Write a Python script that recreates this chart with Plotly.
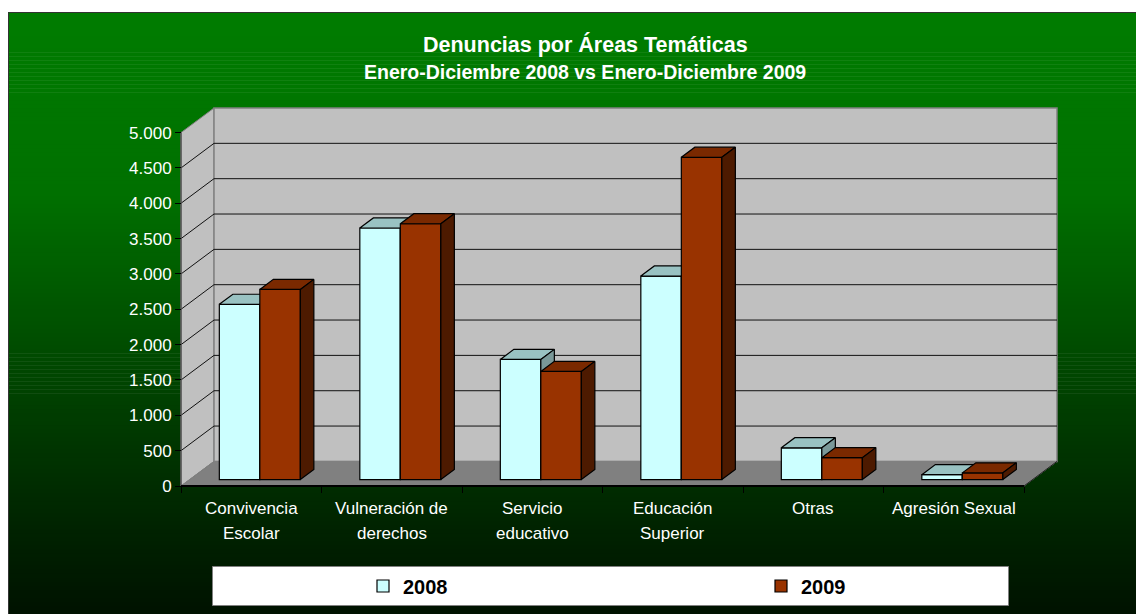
import plotly.graph_objects as go

# ---------------- data ----------------
categories = ["Convivencia<br>Escolar", "Vulneración de<br>derechos", "Servicio<br>educativo",
              "Educación<br>Superior", "Otras", "Agresión Sexual"]
values_2008 = [2480, 3560, 1700, 2880, 450, 70]
values_2009 = [2690, 3620, 1530, 4560, 310, 95]
series_names = ["2008", "2009"]
y_ticks = [0, 500, 1000, 1500, 2000, 2500, 3000, 3500, 4000, 4500, 5000]
y_max = 5000
title_text = "Denuncias por Áreas Temáticas"
subtitle_text = "Enero-Diciembre 2008 vs Enero-Diciembre 2009"

# ---------------- styles / geometry (page pixels) ----------------
FONT = "Liberation Sans, Arial, sans-serif"
PAGE_W, PAGE_H = 1144, 614
OFF = 8                              # default body margin of the html page
FIG_W, FIG_H = PAGE_W - OFF, PAGE_H - OFF
ORIGIN_X, ORIGIN_Y = 181, 486        # front-left-bottom corner of the 3D box (page px)
CAT_W = 140.5                        # px per category on the front plane
Y_SCALE = 353.4 / y_max              # px per value unit
DEPTH_X, DEPTH_Y = 33.0, 24.6        # depth offset of the back wall (px)
PAD = 8
F0, F1 = 0.26, 0.67                  # bar depth position (fraction of box depth)
BAR_W_PX = 40.5

face_colors = {
    "2008": dict(front="#CCFFFF", top="#99C2C2", side="#7A9999"),
    "2009": dict(front="#993300", top="#7A2900", side="#4D1A00"),
}

n = len(categories)
DXu = DEPTH_X / CAT_W
DYu = DEPTH_Y / Y_SCALE
x_range = [-PAD / CAT_W, n + DXu + PAD / CAT_W]
y_range = [-PAD / Y_SCALE, y_max + DYu + PAD / Y_SCALE]

left = ORIGIN_X - PAD
right = ORIGIN_X + n * CAT_W + DEPTH_X + PAD
bottom = ORIGIN_Y + PAD
top = ORIGIN_Y - (y_max * Y_SCALE + DEPTH_Y) - PAD


def pxp(x):
    return (x - left) / (right - left)


def pyp(y):
    return (bottom - y) / (bottom - top)


def path(points):
    return "M " + " L ".join(f"{x:.5f},{y:.3f}" for x, y in points) + " Z"


shapes = []

# gradient background (green -> dark)
stops = [(0.0, 124), (0.3, 112), (0.6, 70), (0.85, 36), (1.0, 18)]


def green_at(t):
    for (t0, g0), (t1, g1) in zip(stops[:-1], stops[1:]):
        if t <= t1:
            return g0 + (g1 - g0) * (t - t0) / (t1 - t0)
    return stops[-1][1]


BOX_TOP, BOX_LEFT = 12, 8
n_strips = 150
step = (PAGE_H - BOX_TOP) / n_strips
for k in range(n_strips):
    y0 = BOX_TOP + k * step
    g = green_at((k + 0.5) / n_strips)
    shapes.append(dict(type="rect", xref="paper", yref="paper", layer="below",
                       x0=pxp(BOX_LEFT), x1=pxp(PAGE_W + 2), y0=pyp(y0), y1=pyp(y0 + step + 0.6),
                       fillcolor=f"rgb(0,{int(round(g))},0)", line=dict(width=0)))
shapes.append(dict(type="rect", xref="paper", yref="paper", layer="below",
                   x0=pxp(BOX_LEFT + 0.5), x1=pxp(PAGE_W + 3), y0=pyp(PAGE_H + 3), y1=pyp(BOX_TOP + 0.5),
                   fillcolor="rgba(0,0,0,0)", line=dict(color="#333333", width=1)))
# legend box
shapes.append(dict(type="rect", xref="paper", yref="paper", layer="below",
                   x0=pxp(212.5), x1=pxp(1008.5), y0=pyp(605.5), y1=pyp(566.5),
                   fillcolor="white", line=dict(color="#808080", width=1)))

# walls
shapes.append(dict(type="path", xref="x", yref="y", layer="below",
                   path=path([(0, 0), (0, y_max), (DXu, y_max + DYu), (DXu, DYu)]),
                   fillcolor="#C0C0C0", line=dict(color="#808080", width=1)))
shapes.append(dict(type="rect", xref="x", yref="y", layer="below",
                   x0=DXu, x1=n + DXu, y0=DYu, y1=y_max + DYu,
                   fillcolor="#C0C0C0", line=dict(color="#808080", width=1.5)))
shapes.append(dict(type="path", xref="x", yref="y", layer="below",
                   path=path([(0, 0), (n, 0), (n + DXu, DYu), (DXu, DYu)]),
                   fillcolor="#808080", line=dict(color="#808080", width=1)))
for v in y_ticks[1:-1]:
    shapes.append(dict(type="line", xref="x", yref="y", layer="below",
                       x0=DXu, x1=n + DXu, y0=v + DYu, y1=v + DYu,
                       line=dict(color="#111111", width=1)))
    shapes.append(dict(type="line", xref="x", yref="y", layer="below",
                       x0=0, x1=DXu, y0=v, y1=v + DYu,
                       line=dict(color="#111111", width=1)))
# front edges
shapes.append(dict(type="line", xref="x", yref="y", layer="below",
                   x0=0, x1=0, y0=0, y1=y_max, line=dict(color="#555555", width=1.5)))
shapes.append(dict(type="line", xref="x", yref="y", layer="below",
                   x0=n, x1=n + DXu, y0=0, y1=DYu, line=dict(color="#222222", width=1)))
shapes.append(dict(type="line", xref="x", yref="y", layer="below",
                   x0=0, x1=n, y0=0, y1=0, line=dict(color="black", width=2)))

# ---------------- bars ----------------
fig = go.Figure()
bar_w = BAR_W_PX / CAT_W
base = F0 * DYu
shift = F0 * DXu
ddx = (F1 - F0) * DXu
ddy = (F1 - F0) * DYu

for si, (name, vals) in enumerate(zip(series_names, [values_2008, values_2009])):
    xa = "x" if si == 0 else "x2"
    ya = "y" if si == 0 else "y2"
    cols = face_colors[name]
    centers = [i + 0.5 + shift + (si - 0.5) * bar_w for i in range(n)]
    fig.add_trace(go.Bar(x=centers, y=vals, base=base, width=bar_w, name=name,
                         legend="legend" if si == 0 else "legend2",
                         marker=dict(color=cols["front"], line=dict(color="black", width=1.2)),
                         xaxis=xa, yaxis=ya, hovertemplate=name + ": %{y}<extra></extra>"))
    tx, ty, sx, sy = [], [], [], []
    for c, v in zip(centers, vals):
        xl, xr = c - bar_w / 2, c + bar_w / 2
        t = base + v
        tx += [xl, xr, xr + ddx, xl + ddx, xl, None]
        ty += [t, t, t + ddy, t + ddy, t, None]
        sx += [xr, xr, xr + ddx, xr + ddx, xr, None]
        sy += [base, t, t + ddy, base + ddy, base, None]
    fig.add_trace(go.Scatter(x=tx, y=ty, mode="lines", fill="toself", fillcolor=cols["top"],
                             line=dict(color="black", width=1.2), showlegend=False,
                             hoverinfo="skip", xaxis=xa, yaxis=ya))
    fig.add_trace(go.Scatter(x=sx, y=sy, mode="lines", fill="toself", fillcolor=cols["side"],
                             line=dict(color="black", width=1.2), showlegend=False,
                             hoverinfo="skip", xaxis=xa, yaxis=ya))

# ---------------- annotations ----------------
annotations = []
for i, cat in enumerate(categories):
    for j, line in enumerate(cat.split("<br>")):
        annotations.append(dict(text=line, x=i + 0.5, y=0, xref="x", yref="y",
                                yanchor="middle", yshift=-(22 + 25 * j), showarrow=False,
                                font=dict(family=FONT, size=17, color="white")))
annotations.append(dict(text=title_text, x=pxp(585), y=pyp(44), xref="paper", yref="paper",
                        yanchor="middle", showarrow=False,
                        font=dict(family=FONT, size=21.5, color="white", weight="bold")))
annotations.append(dict(text=subtitle_text, x=pxp(585), y=pyp(72), xref="paper", yref="paper",
                        yanchor="middle", showarrow=False,
                        font=dict(family=FONT, size=19.5, color="white", weight="bold")))

legend_font = dict(family=FONT, size=20, color="black", weight="bold")
fig.update_layout(
    width=FIG_W, height=FIG_H,
    margin=dict(l=left - OFF, r=PAGE_W - right, t=top - OFF, b=PAGE_H - bottom, pad=0,
                autoexpand=False),
    paper_bgcolor="white", plot_bgcolor="rgba(0,0,0,0)",
    separators=",.",
    barmode="overlay",
    shapes=shapes, annotations=annotations,
    showlegend=True,
    legend=dict(orientation="h", x=pxp(363), y=pyp(586), xanchor="left", yanchor="middle",
                bgcolor="rgba(0,0,0,0)", borderwidth=0, font=legend_font),
    legend2=dict(orientation="h", x=pxp(761), y=pyp(586), xanchor="left", yanchor="middle",
                 bgcolor="rgba(0,0,0,0)", borderwidth=0, font=legend_font),
    xaxis=dict(range=x_range, anchor="free", position=pyp(ORIGIN_Y), showgrid=False,
               zeroline=False, showline=False, tickvals=list(range(n + 1)),
               ticktext=[""] * (n + 1), ticks="outside", ticklen=6, tickcolor="black",
               tickwidth=1, fixedrange=True),
    yaxis=dict(range=y_range, anchor="free", position=pxp(ORIGIN_X), showgrid=False,
               zeroline=False, showline=False, tickvals=y_ticks, tickformat=",d",
               ticks="outside", ticklen=6, tickcolor="black", tickwidth=1,
               tickfont=dict(family=FONT, size=17, color="white"), fixedrange=True),
    xaxis2=dict(range=x_range, overlaying="x", visible=False, fixedrange=True),
    yaxis2=dict(range=y_range, overlaying="y", visible=False, fixedrange=True),
)

fig.write_html("out.html")
